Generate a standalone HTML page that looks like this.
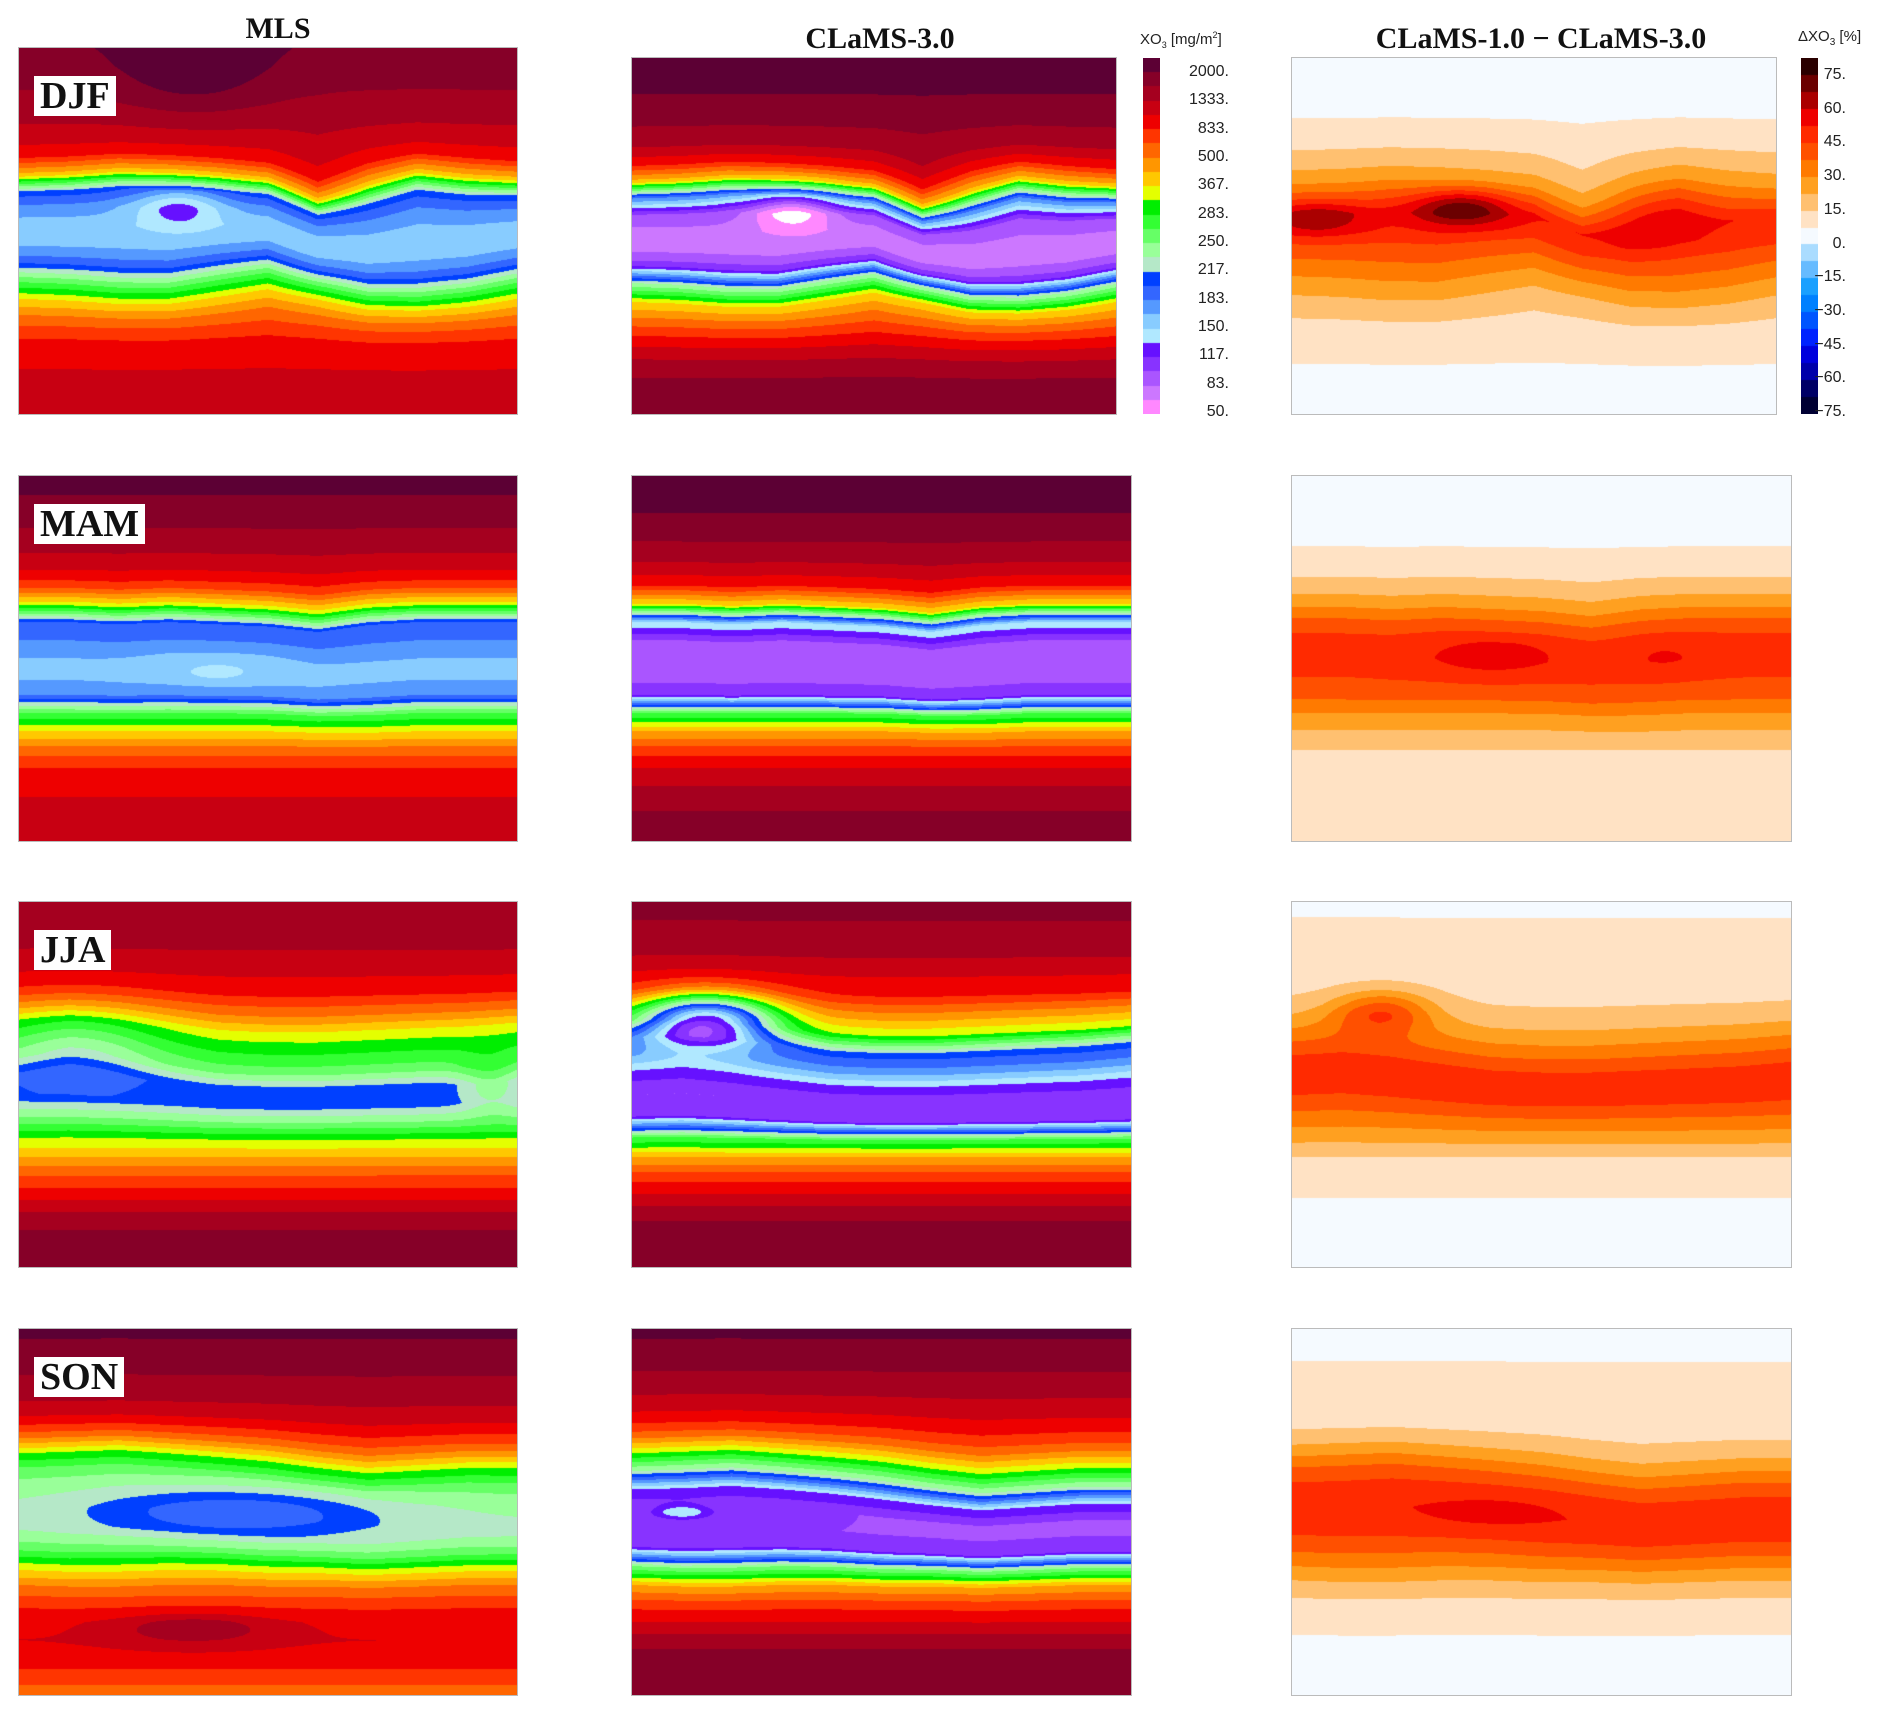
<!DOCTYPE html>
<html><head><meta charset="utf-8">
<style>
html,body{margin:0;padding:0;background:#fff;}
#root{position:relative;width:1892px;height:1710px;overflow:hidden;background:#fff;font-family:"Liberation Sans",sans-serif;}
canvas.panel{position:absolute;outline:1px solid #bbb;}
.title{position:absolute;font-family:"Liberation Serif",serif;font-weight:bold;font-size:30px;color:#111;transform:translateX(-50%);white-space:nowrap;}
.season{position:absolute;background:#fff;font-family:"Liberation Serif",serif;font-weight:bold;font-size:38px;line-height:40px;padding:0 6px;color:#111;}
.cb{position:absolute;}
.cblab{position:absolute;font-size:16px;color:#222;text-align:right;width:70px;}
.cbtitle{position:absolute;font-size:15px;color:#222;white-space:nowrap;}
</style></head>
<body>
<div id="root">
  <div class="title" style="left:278px;top:12px">MLS</div>
  <div class="title" style="left:880px;top:22px">CLaMS-3.0</div>
  <div class="title" style="left:1541px;top:22px">CLaMS-1.0 − CLaMS-3.0</div>
  <div class="cbtitle" style="left:1140px;top:30px">XO<sub style="font-size:9px">3</sub> [mg/m<sup style="font-size:9px">2</sup>]</div>
  <div class="cbtitle" style="left:1798px;top:28px">ΔXO<sub style="font-size:10px">3</sub> [%]</div>
  <canvas id="cb1" class="cb" width="17" height="356" style="left:1143px;top:58px"></canvas>
  <canvas id="cb2" class="cb" width="17" height="356" style="left:1801px;top:58px"></canvas>
</div>
<script>
// ---------- data ----------
const seasons = ["DJF","MAM","JJA","SON"];
const latNodes = [0,0.05,0.1,0.15,0.2,0.25,0.3,0.35,0.4,0.45,0.5,0.55,0.6,0.65,0.7,0.75,0.8,0.85,0.9,0.95,1];
const lonNodes = [0,0.1,0.2,0.3,0.4,0.5,0.6,0.7,0.8,0.9,1];
// zonal profiles in colour-level units (0 = highest XO3 level)
const mlsDJF = [1.2,1.5,1.9,2.3,2.9,3.6,5,8.5,15.5,17.5,18.5,18.3,16.5,12.5,9,6.5,5,4.3,3.8,3.6,3.5];
const mlsMAM = [0.6,1,1.5,2.1,2.8,3.8,5.5,9.5,16,17,18,18.2,17,12,9,6.5,5,4.3,3.8,3.4,3];
const mlsJJA = [2,2.3,2.7,3.2,4,5,7,9.5,11,12.5,15.5,15.5,13,10,8,6,4.5,3,2,1.5,1.2];
const mlsSON = [0.8,1.2,1.7,2.3,3,4.2,6.5,10,12.5,13.5,14,14,12.5,9.5,7,5.3,4.2,4,4.2,5.5,6.5];
const clDJF = [0.4,0.7,1,1.5,2.1,3,4.8,8.5,17,22,23.3,23.5,21.5,14,9,6.5,4.5,3,2,1.5,1.2];
const clMAM = [0.3,0.6,1,1.6,2.3,3.3,5,9,19,22,22.5,22.5,21,12,8,5.5,4,3,2.2,1.7,1.4];
const clJJA = [1.5,2,2.5,3,4,5,7.5,10,15.5,17.5,20.5,22,21,12,8,5.5,4,2.5,1.5,1.2,1];
const clSON = [0.8,1.2,1.8,2.5,3.3,4.5,6.5,10,14,20,22,22,21,13,8,5.5,4,2.5,1.5,1,1];
// difference profiles in percent
const dfDJF = [2,3,4,6,10,14,20,28,40,52,50,42,35,27,20,14,10,8,6,4,3];
const dfMAM = [2,3,4,5,8,12,18,28,40,48,48,45,40,30,22,15,11,9,9,8,8];
const dfJJA = [5,8,9,10,11,13,17,25,35,45,48,45,35,25,15,10,8,6,4,3,2];
const dfSON = [4,6,8,9,10,12,17,28,40,48,50,48,40,30,20,13,9,7,5,3,2];
// latitude shifts of northern / southern band edges along longitude
const northShift = {
  DJF:[0,-0.01,-0.03,-0.02,0,0.03,0.12,0.03,-0.03,0,0.02],
  MAM:[0,0,0.01,0,0.01,0.02,0.04,0.01,0,0,0],
  JJA:[-0.05,-0.06,-0.04,-0.01,0.02,0.03,0.03,0.02,0.01,0,-0.02],
  SON:[-0.02,-0.03,-0.04,-0.02,0,0.02,0.05,0.07,0.06,0.05,0.05]};
const southShift = {
  DJF:[-0.03,-0.02,0,0,-0.04,-0.08,-0.03,0.04,0.05,0.02,-0.03],
  MAM:[0,0,0,0,0,0,0.01,0.01,0,0,0],
  JJA:[0,0,0,0,0,0,0,0,0,0,0],
  SON:[0,0.01,0.01,0,0,0.01,0.01,0.02,0.01,0,0]};
// anomalies: [u, v, rx, ry, amplitude]
const mlsBlobs = {DJF:[[0.32,0.43,0.09,0.06,3],[0.35,0.06,0.15,0.12,-1.5]],MAM:[[0.4,0.53,0.15,0.05,1]],JJA:[[0.12,0.4,0.15,0.12,2],[0.95,0.5,0.06,0.08,-2]],SON:[[0.45,0.5,0.3,0.07,3],[0.35,0.82,0.15,0.04,-2]]};
const clBlobs = {DJF:[[0.33,0.42,0.09,0.06,4]],MAM:[],JJA:[[0.15,0.32,0.13,0.07,11]],SON:[[0.1,0.5,0.06,0.02,-3]]};
const dfBlobs = {DJF:[[0.35,0.42,0.1,0.05,25],[0.05,0.45,0.1,0.05,15],[0.75,0.45,0.1,0.1,8]],MAM:[[0.4,0.5,0.15,0.06,8],[0.75,0.5,0.1,0.06,5]],JJA:[[0.18,0.3,0.1,0.06,25]],SON:[[0.4,0.5,0.2,0.06,5]]};
const xoTicks = ["2000.","1333.","833.","500.","367.","283.","250.","217.","183.","150.","117.","83.","50."];
const dTicks = ["75.","60.","45.","30.","15.","0.","−15.","−30.","−45.","−60.","−75."];
const xoColors = ["#5c0034","#860028","#a5001f","#c80012","#ee0000","#ff3500","#ff6600","#ff9600","#ffc800","#e4ff00","#00ee00","#33ff33","#66ff66","#99ff99","#b5e8c8","#0040ff","#3366ff","#5599ff","#88ccff","#b0e8ff","#6611ff","#8833ff","#aa55ff","#cc77ff","#ff88ff"];
const dColors = ["#2a0000","#6b0000","#aa0000","#ee0000","#ff2a00","#ff5000","#ff7a00","#ffa020","#ffc070","#ffe2c4","#f5faff","#aadcff","#66bbff","#1aa0ff","#0080ff","#0055ff","#0022ff","#0000dd","#0000aa","#000066","#000033"];

// ---------- layout ----------
const rowsY = [[48,414],[476,841],[902,1267],[1329,1695]];
const root = document.getElementById('root');
function interp(nodes, vals, x){
  if(x<=nodes[0]) return vals[0];
  for(let i=1;i<nodes.length;i++){ if(x<=nodes[i]){ const t=(x-nodes[i-1])/(nodes[i]-nodes[i-1]); return vals[i-1]+t*(vals[i]-vals[i-1]); } }
  return vals[vals.length-1];
}
function hexRGB(h){return [parseInt(h.slice(1,3),16),parseInt(h.slice(3,5),16),parseInt(h.slice(5,7),16)];}
const xoRGB = xoColors.map(hexRGB), dRGB = dColors.map(hexRGB);
function field(prof, blobs, s, u, v){
  const w = Math.min(1,Math.max(0,(v-0.3)/0.4));
  const env = Math.exp(-Math.pow((v-0.5)/0.22,2));
  const sh = env*(interp(lonNodes,northShift[s],u)*(1-w)+interp(lonNodes,southShift[s],u)*w);
  let val = interp(latNodes,prof,v-sh);
  for(const b of blobs){ const du=(u-b[0])/b[2], dv=(v-b[1])/b[3]; val += b[4]*Math.exp(-(du*du+dv*dv)); }
  return val;
}
function drawPanel(name, x, y, w, h, prof, blobs, s, isDiff){
  const c = document.createElement('canvas');
  c.className='panel'; c.width=w; c.height=h;
  c.style.left=x+'px'; c.style.top=y+'px';
  
  
  root.appendChild(c);
  const ctx=c.getContext('2d'); const img=ctx.createImageData(w,h);
  for(let j=0;j<h;j++){ const v=j/(h-1);
    for(let i=0;i<w;i++){ const u=i/(w-1);
      const val=field(prof,blobs,s,u,v); let rgb;
      if(isDiff){ let k; if(val>=-3.75 && val<7.5) k=10; else if(val>=7.5) k=Math.max(0,9-Math.floor((val-7.5)/7.5)); else k=Math.min(20,11+Math.floor((-val-3.75)/7.5)); rgb=dRGB[k]; }
      else { const k=Math.floor(val); rgb = k>=25?[255,255,255]:xoRGB[Math.max(0,k)]; }
      const p=(j*w+i)*4; img.data[p]=rgb[0]; img.data[p+1]=rgb[1]; img.data[p+2]=rgb[2]; img.data[p+3]=255;
    } }
  ctx.putImageData(img,0,0);
}
const mlsP={DJF:mlsDJF,MAM:mlsMAM,JJA:mlsJJA,SON:mlsSON};
const clP={DJF:clDJF,MAM:clMAM,JJA:clJJA,SON:clSON};
const dfP={DJF:dfDJF,MAM:dfMAM,JJA:dfJJA,SON:dfSON};
seasons.forEach((s,r)=>{
  const [y0,y1]=rowsY[r];
  const top = r===0?58:y0;
  const w2 = r===0?484:499;
  drawPanel('mls-map-'+s.toLowerCase(),19,y0,498,y1-y0,mlsP[s],mlsBlobs[s],s,false);
  drawPanel('clams3-map-'+s.toLowerCase(),632,top,w2,y1-top,clP[s],clBlobs[s],s,false);
  drawPanel('diff-map-'+s.toLowerCase(),1292,top,w2,y1-top,dfP[s],dfBlobs[s],s,true);
  const lab=document.createElement('div');
  lab.className='season'; lab.textContent=s;
  lab.style.left='34px'; lab.style.top=(y0+28)+'px';
  
  
  root.appendChild(lab);
});
// colorbars
function drawCB(id, cols){
  const c=document.getElementById(id), ctx=c.getContext('2d'); const n=cols.length, h=c.height/n;
  cols.forEach((col,i)=>{ctx.fillStyle=col; ctx.fillRect(0,Math.round(i*h),c.width,Math.ceil(h)+1);});
}
drawCB('cb1',xoColors); drawCB('cb2',dColors);
function ticks(arr, right, top, bottom, prefix){
  arr.forEach((t,i)=>{
    const d=document.createElement('div'); d.className='cblab'; d.textContent=t;
    const y = top + (bottom-top)*i/(arr.length-1);
    d.style.left=(right-70)+'px'; d.style.top=(y-9)+'px';
    
    
    root.appendChild(d);
  });
}
ticks(xoTicks,1229,72,412,'xo3');
ticks(dTicks,1846,75,412,'dxo3');
</script>
</body></html>
